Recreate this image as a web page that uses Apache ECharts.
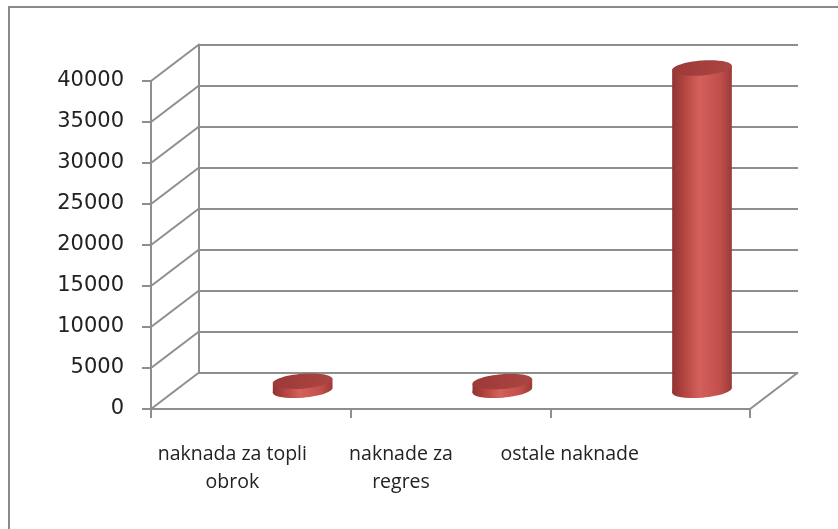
<!DOCTYPE html>
<html>
<head>
<meta charset="utf-8">
<script src="https://cdn.jsdelivr.net/npm/echarts@6.0.0/dist/echarts.min.js"></script>
<style>
  html, body { margin: 0; padding: 0; background: #fff; }
  #main { width: 838px; height: 529px; }
</style>
</head>
<body>
<div id="main"></div>
<script>
var categories = ['naknada za topli obrok', 'naknade za regres', 'ostale naknade'];
var categoryLabels = ['naknada za topli\nobrok', 'naknade za\nregres', 'ostale naknade'];
var values = [1100, 1050, 39300];
var yTicks = [0, 5000, 10000, 15000, 20000, 25000, 30000, 35000, 40000];

// fake 3d: back wall is the front plane shifted by this much
var DEPTH_X = 48;
var DEPTH_Y = 36.5;
var GRID_COLOR = '#8e8e8e';

var chartDom = document.getElementById('main');
var myChart = echarts.init(chartDom);

var front = { left: 151, top: 81, width: 599, height: 328 };

function wallLines(params, api) {
  var v = api.value(1);
  var p = api.coord([0, v]);
  var half = api.size([1, 0])[0] / 2;
  var left = p[0] - half;
  var children = [{
    type: 'line',
    shape: { x1: left, y1: p[1], x2: left + DEPTH_X, y2: p[1] - DEPTH_Y },
    style: { stroke: GRID_COLOR, lineWidth: 2 }
  }];
  if (v === 0) {
    var right = api.coord([categories.length - 1, 0])[0] + half;
    children.push({
      type: 'line',
      shape: { x1: right, y1: p[1], x2: right + DEPTH_X, y2: p[1] - DEPTH_Y },
      style: { stroke: GRID_COLOR, lineWidth: 2 }
    });
  }
  return { type: 'group', children: children };
}

function cylinder(params, api) {
  var i = api.value(0);
  var base = api.coord([i, 0]);
  var top = api.coord([i, api.value(1)]);
  var rx = api.size([1, 0])[0] * 0.15;
  var ry = 7.5;
  var tilt = 0.08;
  var cx = base[0] + DEPTH_X * 1.08;
  var by = base[1] - DEPTH_Y / 2 - 0.5;
  var ty = top[1] - DEPTH_Y / 2 - 0.5;
  var dx = rx * Math.cos(tilt), dy = rx * Math.sin(tilt);
  var side = new echarts.graphic.LinearGradient(0, 0, 1, 0, [
    { offset: 0, color: '#8f3533' },
    { offset: 0.2, color: '#b2443f' },
    { offset: 0.45, color: '#d4605b' },
    { offset: 0.8, color: '#c24f4b' },
    { offset: 1, color: '#9a3b38' }
  ]);
  return {
    type: 'group',
    children: [
      {
        type: 'ellipse',
        x: cx, y: by, rotation: tilt,
        shape: { cx: 0, cy: 0, rx: rx, ry: ry },
        style: { fill: side }
      },
      {
        type: 'polygon',
        shape: { points: [[cx - dx, ty + dy], [cx + dx, ty - dy], [cx + dx, by - dy], [cx - dx, by + dy]] },
        style: { fill: side }
      },
      {
        type: 'ellipse',
        x: cx, y: ty, rotation: tilt,
        shape: { cx: 0, cy: 0, rx: rx, ry: ry },
        style: {
          fill: new echarts.graphic.LinearGradient(0, 0, 1, 1, [
            { offset: 0, color: '#9c3a37' },
            { offset: 1, color: '#ab4542' }
          ])
        }
      }
    ]
  };
}

var option = {
  animation: false,
  backgroundColor: '#fff',
  graphic: [{
    type: 'rect',
    shape: { x: 9, y: 7, width: 900, height: 600 },
    style: { fill: 'none', stroke: '#8a8a8a', lineWidth: 2 },
    silent: true
  }],
  grid: [
    front,
    { left: front.left + DEPTH_X, top: front.top - DEPTH_Y, width: front.width, height: front.height },
    { left: 148, top: front.top, width: 506, height: front.height }
  ],
  xAxis: [
    {
      type: 'category', gridIndex: 0, data: categories,
      axisLine: { show: true, lineStyle: { color: GRID_COLOR, width: 2 } },
      axisTick: { show: true, length: 9, lineStyle: { color: GRID_COLOR, width: 2 } },
      axisLabel: { show: false }
    },
    { type: 'category', gridIndex: 1, data: categories, show: false },
    {
      type: 'category', gridIndex: 2, data: categoryLabels,
      axisLine: { show: false }, axisTick: { show: false },
      axisLabel: {
        margin: 31, interval: 0,
        fontFamily: 'Open Sans', fontSize: 19.5, lineHeight: 28, color: '#222'
      }
    }
  ],
  yAxis: [
    {
      type: 'value', gridIndex: 0, min: 0, max: 40000, interval: 5000,
      axisLine: { show: true, lineStyle: { color: GRID_COLOR, width: 2 } },
      axisTick: { show: true, length: 9, lineStyle: { color: GRID_COLOR, width: 2 } },
      splitLine: { show: false },
      axisLabel: {
        margin: 27, fontFamily: 'DejaVu Sans', fontSize: 21, color: '#222', padding: [3, 0, 0, 0],
        formatter: function (v) { return String(v); }
      }
    },
    {
      type: 'value', gridIndex: 1, min: 0, max: 40000, interval: 5000,
      axisLine: { show: true, lineStyle: { color: GRID_COLOR, width: 2 } },
      axisTick: { show: false },
      axisLabel: { show: false },
      splitLine: { show: true, lineStyle: { color: GRID_COLOR, width: 2 } }
    },
    { type: 'value', gridIndex: 2, show: false, min: 0, max: 40000 }
  ],
  series: [
    {
      type: 'custom',
      xAxisIndex: 0, yAxisIndex: 0,
      renderItem: wallLines,
      clip: false, silent: true, z: 1,
      data: yTicks.map(function (v) { return [0, v]; })
    },
    {
      type: 'custom',
      xAxisIndex: 0, yAxisIndex: 0,
      renderItem: cylinder,
      clip: false, z: 5,
      data: values.map(function (v, i) { return [i, v]; })
    }
  ]
};

option && myChart.setOption(option);
</script>
</body>
</html>
